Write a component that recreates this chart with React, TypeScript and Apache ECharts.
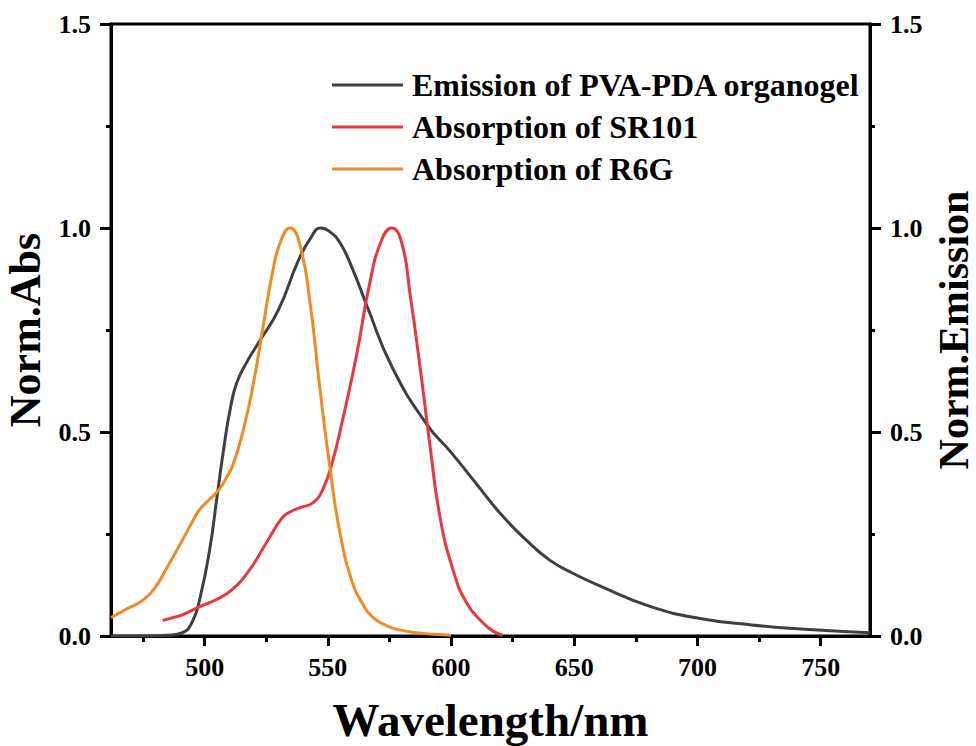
import React, { useEffect, useRef } from "react";
import * as echarts from "echarts";

const seriesNames = [
  "Emission of PVA-PDA organogel",
  "Absorption of SR101",
  "Absorption of R6G",
];
const seriesColors = ["#404040", "#e8383e", "#f08a24"];

const emission: [number, number][] = [
  [462, 0.0], [475, 0.0], [485, 0.002], [491, 0.008], [495, 0.035], [498, 0.09],
  [502, 0.21], [505, 0.34], [508, 0.47], [510.5, 0.56], [513, 0.62], [517, 0.67],
  [522, 0.72], [530, 0.8], [538, 0.92], [543, 0.975], [547, 1.0], [551, 0.99],
  [555, 0.963], [560, 0.9], [566, 0.807], [576, 0.66], [590, 0.52], [600, 0.45],
  [610, 0.375], [620, 0.3], [630, 0.238], [640, 0.186], [650, 0.152], [661, 0.121],
  [681, 0.072], [701, 0.043], [722, 0.027], [742, 0.017], [770, 0.008],
];

const sr101: [number, number][] = [
  [483, 0.038], [487, 0.045], [491, 0.052], [498, 0.072], [505, 0.09], [511, 0.113],
  [518, 0.16], [525, 0.228], [531.5, 0.29], [535, 0.305], [539, 0.315], [544, 0.327],
  [548, 0.36], [552, 0.43], [556, 0.53], [561.7, 0.69], [567, 0.865], [571.8, 0.97],
  [575.9, 1.0], [580, 0.963], [583.3, 0.84], [587.4, 0.66], [591.5, 0.464],
  [595.5, 0.292], [600.8, 0.162], [606.4, 0.08], [613, 0.032], [617, 0.012], [621, 0.002],
];

const r6g: [number, number][] = [
  [462, 0.045], [468, 0.065], [475, 0.088], [480, 0.12], [484, 0.16], [491, 0.235],
  [495, 0.28], [498, 0.31], [502, 0.335], [506, 0.36], [509, 0.39], [511.5, 0.42],
  [515.5, 0.5], [519.5, 0.61], [523.5, 0.75], [527.5, 0.89], [531, 0.97], [534.6, 1.0],
  [538.6, 0.96], [542.7, 0.82], [546.7, 0.61], [550.8, 0.415], [555, 0.25], [560, 0.13],
  [564, 0.08], [568, 0.047], [574, 0.025], [579, 0.015], [586, 0.008], [593, 0.004],
  [600, 0.002],
];

const xMajorTicks = [500, 550, 600, 650, 700, 750];
const xMinorTicks = [475, 525, 575, 625, 675, 725];
const xMin = 462;
const xMax = 770;

const FONT = "'Liberation Serif', 'Times New Roman', serif";

export default function App() {
  const ref = useRef<HTMLDivElement>(null);
  useEffect(() => {
    if (!ref.current) return;
    const chart = echarts.init(ref.current, undefined, { renderer: "svg" });
    const labelStyle = {
      fontFamily: FONT,
      fontWeight: "bold" as const,
      fontSize: 26,
      color: "#000",
    };
    const yAxisCommon = (
      position: "left" | "right",
      name: string,
      gap: number,
      nameSize: number
    ) => ({
      type: "value" as const,
      position,
      min: 0,
      max: 1.5,
      interval: 0.5,
      name,
      nameLocation: "middle" as const,
      nameGap: gap,
      nameTextStyle: {
        fontFamily: FONT,
        fontWeight: "bold" as const,
        fontSize: nameSize,
        lineHeight: 36,
        color: "#000",
      },
      axisLine: { show: true, lineStyle: { color: "#000", width: 3 } },
      axisTick: { show: true, inside: false, length: 11, lineStyle: { color: "#000", width: 3 } },
      minorTick: { show: true, splitNumber: 2, length: 5, lineStyle: { color: "#000", width: 3 } },
      splitLine: { show: false },
      minorSplitLine: { show: false },
      axisLabel: {
        ...labelStyle,
        margin: 20,
        formatter: (v: number) => v.toFixed(1),
      },
    });
    chart.setOption({
      animation: false,
      backgroundColor: "#fff",
      grid: {
        left: 111,
        right: 106,
        top: 24,
        bottom: 110,
        show: true,
        borderColor: "#000",
        borderWidth: 3,
        containLabel: false,
        outerBoundsMode: "none",
      },
      legend: {
        data: seriesNames,
        orient: "vertical",
        left: 332,
        top: 69,
        padding: 0,
        icon: "rect",
        itemWidth: 71,
        itemHeight: 3,
        itemGap: 10,
        textStyle: {
          fontFamily: FONT,
          fontWeight: "bold",
          fontSize: 32,
          color: "#000",
          lineHeight: 30,
          padding: [0, 0, 0, 4],
        },
      },
      xAxis: [
        {
          type: "value",
          position: "bottom",
          min: xMin,
          max: xMax,
          name: "Wavelength/nm",
          nameLocation: "middle",
          nameGap: 60,
          nameTextStyle: { fontFamily: FONT, fontWeight: "bold", fontSize: 47, color: "#000" },
          axisLine: { show: true, lineStyle: { color: "#000", width: 3 } },
          axisTick: {
            show: true,
            inside: false,
            length: 10,
            customValues: xMajorTicks,
            lineStyle: { color: "#000", width: 3 },
          },
          axisLabel: { ...labelStyle, margin: 18, customValues: xMajorTicks },
          splitLine: { show: false },
        },
        {
          type: "value",
          position: "bottom",
          min: xMin,
          max: xMax,
          axisLine: { show: false },
          axisTick: {
            show: true,
            inside: false,
            length: 6,
            customValues: xMinorTicks,
            lineStyle: { color: "#000", width: 3 },
          },
          axisLabel: { show: false },
          splitLine: { show: false },
        },
      ],
      yAxis: [
        yAxisCommon("left", "Norm.Abs", 64, 44),
        yAxisCommon("right", "Norm.Emission", 62, 42),
      ],
      series: [
        {
          name: seriesNames[0],
          type: "line",
          data: emission,
          showSymbol: false,
          smooth: 0.5,
          lineStyle: { color: seriesColors[0], width: 3 },
          itemStyle: { color: seriesColors[0] },
          z: 3,
        },
        {
          name: seriesNames[1],
          type: "line",
          data: sr101,
          showSymbol: false,
          smooth: 0.5,
          lineStyle: { color: seriesColors[1], width: 3 },
          itemStyle: { color: seriesColors[1] },
          z: 4,
        },
        {
          name: seriesNames[2],
          type: "line",
          data: r6g,
          showSymbol: false,
          smooth: 0.5,
          lineStyle: { color: seriesColors[2], width: 3 },
          itemStyle: { color: seriesColors[2] },
          z: 5,
        },
      ],
    });
    return () => chart.dispose();
  }, []);
  return (
    <div
      ref={ref}
      style={{ position: "absolute", left: 0, top: 0, width: 976, height: 746 }}
    />
  );
}
